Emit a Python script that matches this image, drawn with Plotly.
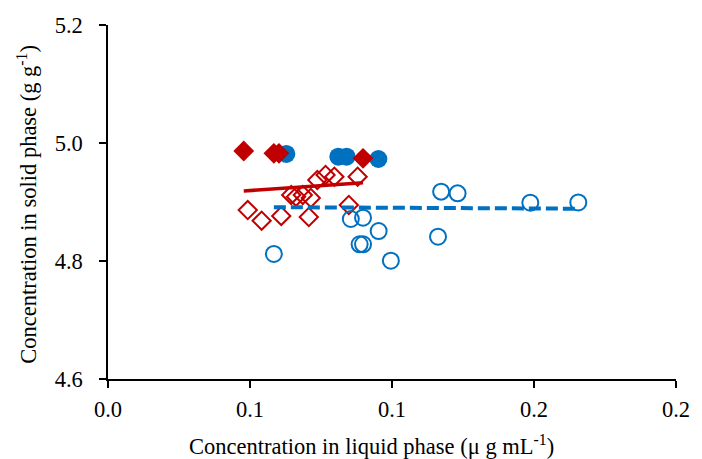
import numpy as np
import plotly.graph_objects as go

# Red series (diamonds)
red_open_x = [0.0492, 0.0541, 0.0610, 0.0707, 0.0645, 0.0662, 0.0686, 0.0714, 0.0737, 0.0766, 0.0797, 0.0879, 0.0848]
red_open_y = [4.8864, 4.8683, 4.8763, 4.8746, 4.9119, 4.9090, 4.9119, 4.9068, 4.9373, 4.9458, 4.9429, 4.9429, 4.8949]
red_fill_x = [0.0478, 0.0584, 0.0602, 0.0898]
red_fill_y = [4.9864, 4.9825, 4.9825, 4.9741]

# Blue series (circles)
blue_open_x = [0.0584, 0.0855, 0.0898, 0.0953, 0.0886, 0.0898, 0.0996, 0.1162, 0.1173, 0.1231, 0.1487, 0.1656]
blue_open_y = [4.8119, 4.8712, 4.8734, 4.8508, 4.8283, 4.8283, 4.8005, 4.8412, 4.9175, 4.9147, 4.8988, 4.8992]
blue_fill_x = [0.0628, 0.0811, 0.0840, 0.0952]
blue_fill_y = [4.9814, 4.9768, 4.9768, 4.9729]

x_ticks = [0.0, 0.05, 0.10, 0.15, 0.20]
x_tick_labels = ["0.0", "0.1", "0.1", "0.2", "0.2"]
y_ticks = [4.6, 4.8, 5.0, 5.2]

x_title = "Concentration in liquid phase (μ g mL<sup>-1</sup>)"
y_title = "Concentration in solid phase (g g<sup>-1</sup>)"

RED = "#C00000"
BLUE = "#0070C0"
FONT = "Liberation Serif"
FS = 22.5

def trend(xs, ys):
    xs = np.array(xs); ys = np.array(ys)
    m, b = np.polyfit(xs, ys, 1)
    xl = np.array([xs.min(), xs.max()])
    return xl, m * xl + b

fig = go.Figure()
fig.add_trace(go.Scatter(x=red_open_x, y=red_open_y, mode="markers",
    marker=dict(symbol="diamond-open", size=14, color=RED, line=dict(width=2, color=RED))))
fig.add_trace(go.Scatter(x=blue_open_x, y=blue_open_y, mode="markers",
    marker=dict(symbol="circle-open", size=16, color=BLUE, line=dict(width=2, color=BLUE))))
fig.add_trace(go.Scatter(x=blue_fill_x, y=blue_fill_y, mode="markers",
    marker=dict(symbol="circle", size=18, color=BLUE, line=dict(width=0))))
fig.add_trace(go.Scatter(x=red_fill_x, y=red_fill_y, mode="markers",
    marker=dict(symbol="diamond", size=16, color=RED, line=dict(width=0))))

rx, ry = trend(red_open_x + red_fill_x, red_open_y + red_fill_y)
bx, by = trend(blue_open_x + blue_fill_x, blue_open_y + blue_fill_y)
fig.add_trace(go.Scatter(x=rx, y=ry, mode="lines", line=dict(color=RED, width=3.5)))
fig.add_trace(go.Scatter(x=bx, y=by, mode="lines", line=dict(color=BLUE, width=4, dash="12px,5px")))

fig.update_layout(
    width=702, height=459,
    margin=dict(l=108, r=14, t=25, b=80),
    paper_bgcolor="white", plot_bgcolor="white",
    showlegend=False,
    font=dict(family=FONT, size=FS, color="black"),
    annotations=[
        dict(text=x_title, xref="paper", yref="paper", x=(377 - 108) / 580, y=(379 - 445) / 354,
             xanchor="center", yanchor="middle", showarrow=False, font=dict(family=FONT, size=FS)),
        dict(text=y_title, xref="paper", yref="paper", x=(25 - 108) / 580, y=(379 - 204) / 354,
             xanchor="center", yanchor="middle", textangle=-90, showarrow=False, font=dict(family=FONT, size=FS)),
    ],
)
fig.update_xaxes(
    range=[0, 0.2], tickvals=x_ticks, ticktext=x_tick_labels,
    showgrid=False, zeroline=False, showline=True, linecolor="black", linewidth=1.5,
    ticks="outside", ticklen=7, tickcolor="black", tickwidth=1.5,
    tickfont=dict(family=FONT, size=FS), ticklabelstandoff=2, ticklabeloverflow="allow",
)
fig.update_yaxes(
    range=[4.6, 5.2], tickvals=y_ticks, tickformat=".1f",
    showgrid=False, zeroline=False, showline=True, linecolor="black", linewidth=1.5,
    ticks="outside", ticklen=7, tickcolor="black", tickwidth=1.5,
    tickfont=dict(family=FONT, size=FS), ticklabelstandoff=12, ticklabeloverflow="allow",
)

fig.write_html("out.html")
